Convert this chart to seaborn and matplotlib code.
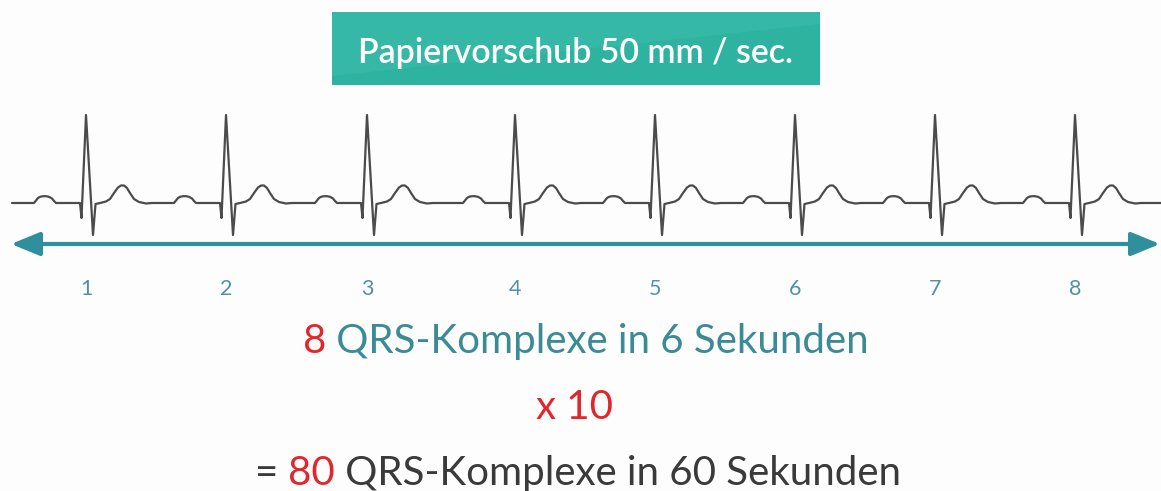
import numpy as np
import pandas as pd
import matplotlib
matplotlib.use("Agg")
import matplotlib.pyplot as plt
from matplotlib.patches import Rectangle, Polygon
import seaborn as sns

# ---------------- data ----------------
beat_numbers = [1, 2, 3, 4, 5, 6, 7, 8]
r_peak_x = [86, 226, 367, 515, 655, 795, 935, 1075]     # R-peak positions along the strip
# one PQRST complex, offsets relative to the R peak (dx) and amplitude above baseline (dy)
wave_dx = [-52, -50, -48, -46, -43, -40, -37, -34, -32, -30,
           -6, -4.5, 0, 7, 9.5, 14, 20, 24, 28, 32, 35, 38, 41, 44, 48, 53, 60, 66]
wave_dy = [0, 2.5, 5, 6.2, 6.8, 6.8, 6.2, 4.5, 2, 0,
           0, -15, 88, -32, -1, 0, 1.5, 4, 10, 15.5, 17.5, 17.5, 15, 10, 4, 1, -0.5, 0]
strip_start, strip_end = 12, 1161
title_text = "Papiervorschub 50 mm / sec."
line1 = [("8", "red"), (" QRS-Komplexe in 6 Sekunden", "teal")]
line2 = [("x 10", "red")]
line3 = [("= ", "dark"), ("80", "red"), (" QRS-Komplexe in 60 Sekunden", "dark")]

# ---------------- style ----------------
W, H = 1161, 491
BG = "#fdfdfd"
ECG_COL = "#4b4b4b"
ARROW_COL = "#2f8f9c"
NUM_COL = "#4f92a0"
BOX_COL = "#2db3a0"
BOX_LIGHT = "#3bbcab"
COLS = {"red": "#e1272c", "teal": "#3b8b96", "dark": "#3a3a3a"}
FONT = ["Lato", "DejaVu Sans"]

sns.set_theme(style="white")
plt.rcParams["font.family"] = FONT

fig = plt.figure(figsize=(W / 100, H / 100), dpi=100)
fig.patch.set_facecolor(BG)
ax = fig.add_axes([0, 0, 1, 1])
ax.set_facecolor(BG)

# ---------------- ECG trace ----------------
baseline = 203
xs, ys = [strip_start], [0.0]
for r in r_peak_x:
    for dx, dy in zip(wave_dx, wave_dy):
        xs.append(r + dx)
        ys.append(dy)
xs.append(strip_end)
ys.append(0.0)
ecg = pd.DataFrame({"x": xs, "y": [baseline - v for v in ys]})
sns.lineplot(data=ecg, x="x", y="y", sort=False, estimator=None, color=ECG_COL,
             lw=1.6, ax=ax, legend=False)
ax.set_xlim(0, W)
ax.set_ylim(H, 0)
ax.axis("off")

# ---------------- arrow ----------------
ax.annotate("", xy=(1160, 244), xytext=(11, 244),
            arrowprops=dict(arrowstyle="<|-|>,head_length=1.1,head_width=0.45",
                            color=ARROW_COL, lw=3.0, mutation_scale=16,
                            shrinkA=0, shrinkB=0))

# ---------------- beat numbers ----------------
for n, r in zip(beat_numbers, r_peak_x):
    ax.text(r, 295, str(n), ha="center", va="baseline", fontsize=15.5,
            color=NUM_COL)

# ---------------- title box ----------------
ax.add_patch(Rectangle((332, 12), 488, 73, facecolor=BOX_COL, edgecolor="none"))
ax.add_patch(Polygon([(332, 12), (820, 12), (820, 24), (332, 76)], closed=True,
                     facecolor=BOX_LIGHT, edgecolor="none", alpha=0.6))

fig.canvas.draw()
renderer = fig.canvas.get_renderer()


def width_of(s, fs, weight):
    t = ax.text(0, 0, s, fontsize=fs, fontweight=weight)
    w = t.get_window_extent(renderer).width
    t.remove()
    return w


def fit_size(s, target, weight):
    bar = width_of("|", 20, weight)
    w = width_of(s + "|", 20, weight) - bar
    return 20 * target / w


title_fs = fit_size(title_text, 435, "semibold")
ax.text(575, 63, title_text, ha="center", va="baseline", fontsize=title_fs,
        color="white", fontweight="semibold")


def rich_line(pieces, base_y, fs, cx=None, left=None, weight="normal"):
    full = "".join(p for p, _ in pieces)
    bar = width_of("|", fs, weight)
    total = width_of(full + "|", fs, weight) - bar
    if left is None:
        left = cx - total / 2
    prefix = ""
    for s, c in pieces:
        off = width_of(prefix + "|", fs, weight) - bar if prefix else 0
        ax.text(left + off, base_y, s, fontsize=fs, fontweight=weight,
                color=COLS[c], ha="left", va="baseline")
        prefix += s


fs1 = fit_size("".join(p for p, _ in line1), 567, "normal")
fs3 = fit_size("".join(p for p, _ in line3), 648, "normal")
rich_line(line1, 353, fs1, left=303)
rich_line(line2, 419, fs1, cx=575)
rich_line(line3, 485, fs3, left=255)

fig.savefig("out.png", dpi=100, facecolor=BG)
